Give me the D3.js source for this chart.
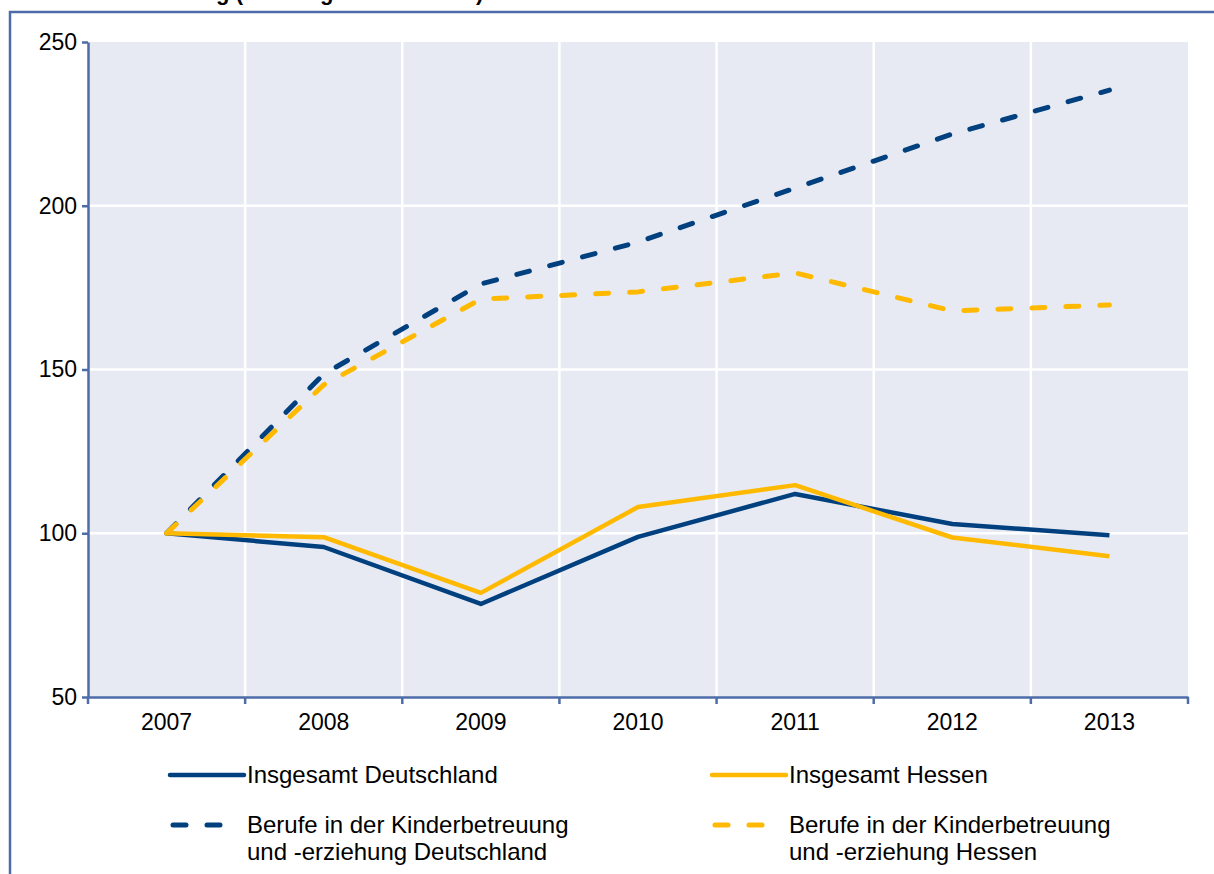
<!DOCTYPE html>
<html><head><meta charset="utf-8">
<script src="https://cdn.jsdelivr.net/npm/d3@7"></script>
<style>
html,body{margin:0;padding:0;background:#fff;overflow:hidden}
svg{display:block;font-family:"Liberation Sans",Arial,sans-serif}
</style></head>
<body>
<svg id="c" width="1214" height="874"></svg>
<script>
const years = ["2007","2008","2009","2010","2011","2012","2013"];
const insgesamtDeutschland = [100, 95.8, 78.4, 98.9, 112.0, 102.8, 99.4];
const insgesamtHessen      = [100, 98.8, 81.8, 108.0, 114.7, 98.7, 93.0];
const kitaDeutschland      = [100, 148.6, 176.1, 188.9, 205.4, 221.9, 235.3];
const kitaHessen           = [100, 145.3, 171.5, 173.7, 179.5, 167.9, 169.7];
const yTicks = [50, 100, 150, 200, 250];
const titleText = "Entwicklung (Meldungen 2007 = 100)";

const NAVY = "#00407F", GOLD = "#FFB900", AX = "#4E6DA8", BG = "#E7EAF2";
const series = [
  {name:"Insgesamt Deutschland", values:insgesamtDeutschland, color:NAVY, dash:null},
  {name:"Berufe in der Kinderbetreuung|und -erziehung Deutschland", values:kitaDeutschland, color:NAVY, dash:"13,21"},
  {name:"Insgesamt Hessen", values:insgesamtHessen, color:GOLD, dash:null},
  {name:"Berufe in der Kinderbetreuung|und -erziehung Hessen", values:kitaHessen, color:GOLD, dash:"13,21"}
];

const svg = d3.select("#c");
const L = 88, R = 1188, T = 42, B = 697;
const x = d3.scaleBand().domain(years).range([L, R]);
const y = d3.scaleLinear().domain([50, 250]).range([B, T]);
const cx = d => x(d) + x.bandwidth()/2;

// title (clipped at the top edge, as in the reference)
svg.append("text").attr("x", 100).attr("y", 0).attr("font-size", 22).attr("font-weight", "bold")
  .attr("fill", "#000").text(titleText);

// outer frame
svg.append("rect").attr("x", 10).attr("y", 12).attr("width", 1230).attr("height", 900)
  .attr("fill", "none").attr("stroke", AX).attr("stroke-width", 2.5);

// plot background
svg.append("rect").attr("x", L).attr("y", T).attr("width", R-L).attr("height", B-T).attr("fill", BG);

// horizontal gridlines
svg.append("g").selectAll("line").data(yTicks.filter(v => v > 50 && v < 250)).join("line")
  .attr("x1", L).attr("x2", R).attr("y1", d => y(d)).attr("y2", d => y(d))
  .attr("stroke", "#fff").attr("stroke-width", 2.5);
// vertical gridlines at category boundaries
svg.append("g").selectAll("line").data(years.slice(1)).join("line")
  .attr("x1", d => x(d)).attr("x2", d => x(d)).attr("y1", T).attr("y2", B)
  .attr("stroke", "#fff").attr("stroke-width", 2.5);

// y axis
const yAxis = svg.append("g").attr("transform", `translate(${L},0)`)
  .call(d3.axisLeft(y).tickValues(yTicks).tickSize(6).tickPadding(5).tickSizeOuter(0));
yAxis.select(".domain").attr("stroke", AX).attr("stroke-width", 2.5);
yAxis.selectAll(".tick line").attr("stroke", AX).attr("stroke-width", 2.5);
yAxis.selectAll(".tick text").attr("font-size", 23).attr("fill", "#000")
  .attr("font-family", "Liberation Sans, Arial, sans-serif");

// x axis (labels at centers, ticks at boundaries)
const xAxis = svg.append("g").attr("transform", `translate(0,${B})`)
  .call(d3.axisBottom(x).tickSize(0).tickPadding(17).tickSizeOuter(0));
xAxis.select(".domain").attr("stroke", AX).attr("stroke-width", 2.5);
xAxis.selectAll(".tick text").attr("font-size", 23).attr("fill", "#000")
  .attr("font-family", "Liberation Sans, Arial, sans-serif");
const bounds = years.map(d => x(d)).concat([x(years[years.length-1]) + x.bandwidth()]);
svg.append("g").selectAll("line").data(bounds).join("line")
  .attr("x1", d => d).attr("x2", d => d).attr("y1", B).attr("y2", B+7)
  .attr("stroke", AX).attr("stroke-width", 2.5);

// lines
const line = d3.line().x((d,i) => cx(years[i])).y(d => y(d));
series.forEach(s => {
  svg.append("path").datum(s.values).attr("d", line)
    .attr("fill", "none").attr("stroke", s.color).attr("stroke-width", s.dash ? 5 : 4.5)
    .attr("stroke-linecap", s.dash ? "round" : "butt").attr("stroke-linejoin", "round")
    .attr("stroke-dasharray", s.dash);
});

// legend
const legPos = [
  {x:170, y:775}, {x:170, y:825}, {x:712, y:775}, {x:712, y:825}
];
series.forEach((s, i) => {
  const p = legPos[i];
  const g = svg.append("g");
  if (s.dash) {
    g.append("line").attr("x1", p.x+3).attr("x2", p.x+70).attr("y1", p.y).attr("y2", p.y)
      .attr("stroke", s.color).attr("stroke-width", 5).attr("stroke-linecap", "round")
      .attr("stroke-dasharray", "13,21");
  } else {
    g.append("line").attr("x1", p.x).attr("x2", p.x+74).attr("y1", p.y).attr("y2", p.y)
      .attr("stroke", s.color).attr("stroke-width", 4.5).attr("stroke-linecap", "round");
  }
  const lines = s.name.split("|");
  const t = g.append("text").attr("x", p.x+77).attr("y", p.y+8).attr("font-size", 24).attr("fill", "#000");
  lines.forEach((ln, j) => t.append("tspan").attr("x", p.x+77).attr("dy", j ? 27 : 0).text(ln));
});
</script>
</body></html>
